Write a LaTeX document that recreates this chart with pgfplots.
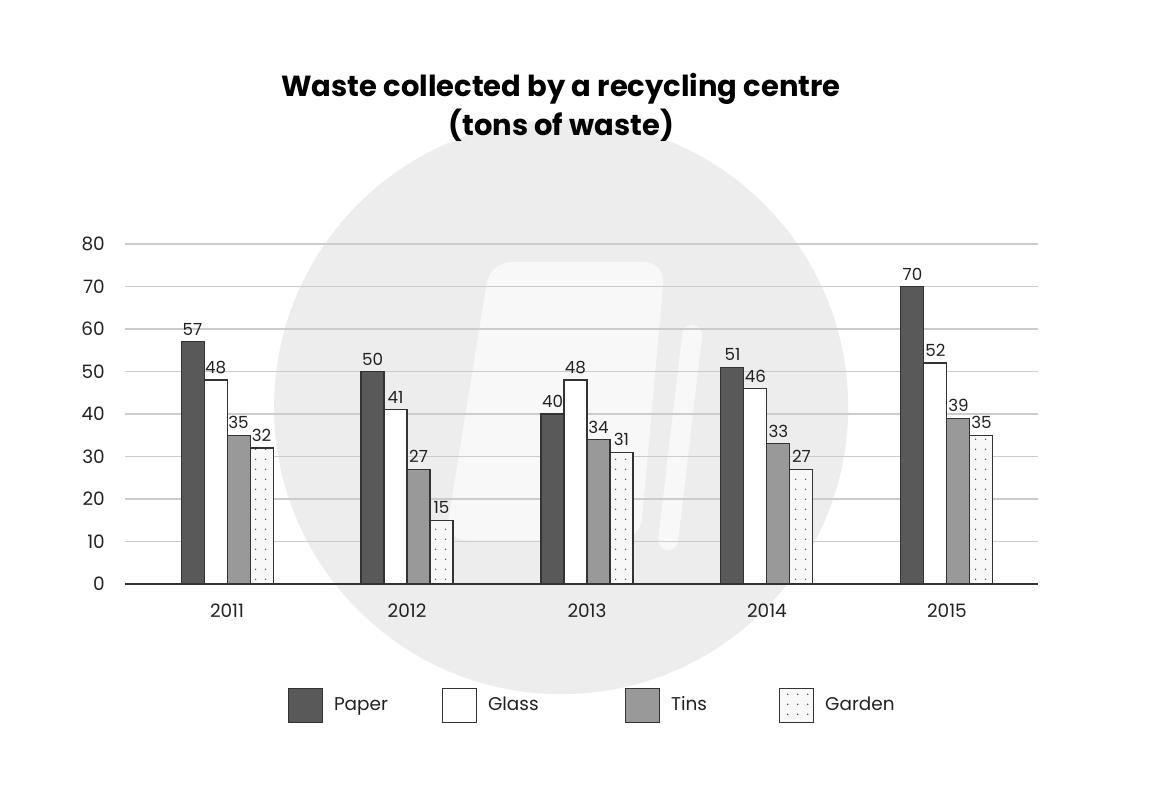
\documentclass[border=0pt]{standalone}
\usepackage{fontspec}
\setmainfont{Poppins}
\usepackage{pgfplots}
\pgfplotsset{compat=1.18}
\usetikzlibrary{patterns.meta}
\definecolor{paperc}{HTML}{595959}
\definecolor{tinsc}{HTML}{999999}
\definecolor{gardenc}{HTML}{F8F8F8}
\definecolor{edgec}{HTML}{333333}
\definecolor{gridc}{HTML}{CCCCCC}
\definecolor{wmgray}{HTML}{EDEDED}
\definecolor{wmlight}{HTML}{F8F8F8}
\definecolor{txt}{HTML}{222222}
\tikzdeclarepattern{
  name=sparsedots,
  type=uncolored,
  bounding box={(0pt,0pt) and (5.5pt,5.5pt)},
  tile size={(5.5pt,5.5pt)},
  code={\fill (2.75pt,2.75pt) circle (0.45pt);}
}
\begin{document}
\begin{tikzpicture}
\useasboundingbox[fill=white] (0,0) rectangle (23.04cm,15.92cm);
% background watermark
\begin{scope}[x=0.02cm,y=-0.02cm,yshift=15.92cm]
  \fill[wmgray] (561,407) circle (287);
  \fill[wmlight,rounded corners=12] (490,262) -- (665,262) -- (640,540) -- (445,540) -- cycle;
  \draw[wmlight,line width=0.4cm,line cap=round] (692,335) -- (668,540);
  \node[font=\bfseries\fontsize{16.5}{20}\selectfont,text=black,anchor=base] at (561,96) {Waste collected by a recycling centre};
  \node[font=\bfseries\fontsize{16.5}{20}\selectfont,text=black,anchor=base] at (561,135) {(tons of waste)};
\end{scope}
\begin{axis}[
  at={(2.5cm,4.24cm)}, anchor=south west,
  scale only axis, width=18.26cm, height=6.8cm,
  ybar=0pt, bar width=0.46cm,
  xmin=-0.567, xmax=4.506, ymin=0, ymax=80,
  enlargelimits=false,
  xtick={0,1,2,3,4}, xticklabels={2011,2012,2013,2014,2015},
  ytick={0,10,...,80},
  /pgf/number format/assume math mode=true,
  axis x line=bottom, axis y line=left,
  x axis line style={-, line width=1.1pt, color=black!80},
  y axis line style={draw=none},
  major tick length=0pt,
  ymajorgrids, grid style={line width=0.6pt, color=gridc},
  tick label style={font=\fontsize{10.5}{12}\selectfont, text=txt},
  xticklabel style={yshift=-0.27cm},
  yticklabel style={xshift=-0.28cm},
  nodes near coords,
  nodes near coords style={font=\fontsize{9.5}{11}\selectfont, text=txt},
  every axis plot/.append style={draw=edgec, line width=0.6pt},
  legend columns=4,
  legend image code/.code={\draw[#1] (0cm,-0.34cm) rectangle (0.68cm,0.34cm);},
  legend style={at={(0.1785,-0.356)}, anchor=west, draw=none, fill=none,
    inner sep=0pt, outer sep=0pt, column sep=0pt,
    nodes={inner sep=0pt, text=txt, font=\fontsize{10.5}{12}\selectfont},
    /tikz/every odd column/.append style={column sep=0.22cm}},
]
\addplot[fill=paperc] coordinates {(0,57) (1,50) (2,40) (3,51) (4,70)};
\addlegendentry{\makebox[2.16cm][l]{Paper}}
\addplot[fill=white] coordinates {(0,48) (1,41) (2,48) (3,46) (4,52)};
\addlegendentry{\makebox[2.74cm][l]{Glass}}
\addplot[fill=tinsc] coordinates {(0,35) (1,27) (2,34) (3,33) (4,39)};
\addlegendentry{\makebox[2.16cm][l]{Tins}}
\addplot[fill=gardenc, postaction={pattern=sparsedots, pattern color=black!70}] coordinates {(0,32) (1,15) (2,31) (3,27) (4,35)};
\addlegendentry{Garden}
\end{axis}
\end{tikzpicture}
\end{document}
